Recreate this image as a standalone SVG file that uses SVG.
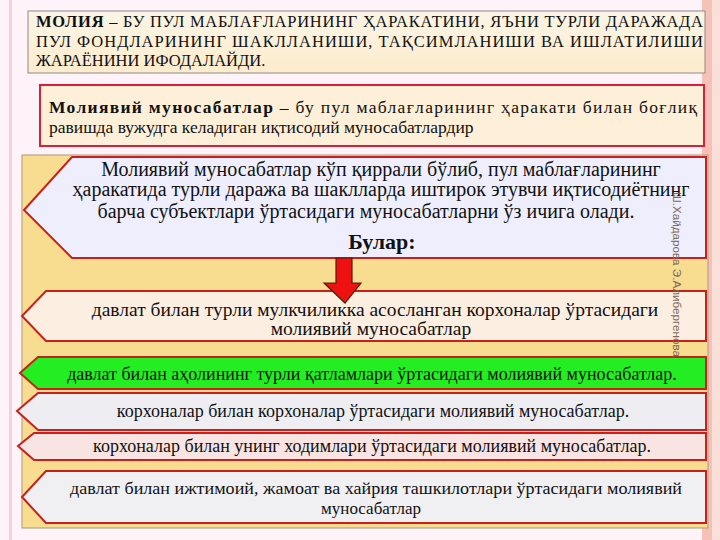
<svg xmlns="http://www.w3.org/2000/svg" width="720" height="540" viewBox="0 0 720 540">
<style>
.t{font-family:"Liberation Serif","Times New Roman",serif;fill:#111}
.h{font-size:16.5px}
.m{font-size:17.5px}
.r{font-size:19.5px}
.s{font-size:18px}
.band{stroke:#c8201a;stroke-width:2}
</style>
<defs>
<linearGradient id="cream" x1="0" y1="0" x2="0" y2="1">
<stop offset="0" stop-color="#fbf5e6"/><stop offset="1" stop-color="#fdeccc"/>
</linearGradient>
</defs>
<rect width="720" height="540" fill="#fdf3f8"/>
<rect x="702" y="0" width="18" height="540" fill="#f6c2b8"/>
<rect x="712" y="0" width="8" height="540" fill="#fbe0da"/>
<rect x="9" y="0" width="3" height="540" fill="#f5cfe0"/>

<g id="top-box">
<rect x="28" y="11" width="677" height="62" fill="url(#cream)" stroke="#8a8a8a" stroke-width="1"/>
<text class="t h" x="36" y="27" textLength="667" lengthAdjust="spacing"><tspan font-weight="bold">МОЛИЯ</tspan> – БУ ПУЛ МАБЛАҒЛАРИНИНГ ҲАРАКАТИНИ, ЯЪНИ ТУРЛИ ДАРАЖАДА</text>
<text class="t h" x="36" y="47" textLength="667" lengthAdjust="spacing">ПУЛ ФОНДЛАРИНИНГ ШАКЛЛАНИШИ, ТАҚСИМЛАНИШИ ВА ИШЛАТИЛИШИ</text>
<text class="t h" x="36" y="66">ЖАРАЁНИНИ ИФОДАЛАЙДИ.</text>
</g>

<g id="definition-box">
<rect x="40" y="85" width="664" height="61" fill="#fdefd8" stroke="#d8203e" stroke-width="2"/>
<text class="t m" x="49" y="113" textLength="648" lengthAdjust="spacing"><tspan font-weight="bold">Молиявий муносабатлар</tspan> – бу пул маблағларининг ҳаракати билан боғлиқ</text>
<text class="t m" x="49" y="133">равишда вужудга келадиган иқтисодий муносабатлардир</text>
</g>

<g id="container">
<rect x="22" y="155" width="686" height="373" fill="#f8dc90" stroke="#a89a80" stroke-width="1"/>
</g>

<g id="intro">
<polygon points="72,157 706,157 706,258 72,258 24,210" fill="#eeeefd" stroke="#c8201a" stroke-width="2"/>
<text class="t" x="381" y="176" text-anchor="middle" font-size="20">Молиявий муносабатлар кўп қиррали бўлиб, пул маблағларининг</text>
<text class="t" x="381" y="196" text-anchor="middle" font-size="20">ҳаракатида турли даража ва шаклларда иштирок этувчи иқтисодиётнинг</text>
<text class="t" x="366" y="218" text-anchor="middle" font-size="20">барча субъектлари ўртасидаги муносабатларни ўз ичига олади.</text>
<text class="t" x="382" y="249" text-anchor="middle" font-size="22" font-weight="bold">Булар:</text>
</g>

<g id="row1">
<polygon points="46,291 706,291 706,341 46,341 22,316" fill="#fdeee2" stroke="#c8201a" stroke-width="2"/>
<text class="t r" x="375" y="316" text-anchor="middle">давлат билан турли мулкчиликка асосланган корхоналар ўртасидаги</text>
<text class="t r" x="371" y="335" text-anchor="middle">молиявий муносабатлар</text>
</g>

<g id="row2">
<polygon points="38,357 706,357 706,389 38,389 20,373" fill="#22ee22" stroke="#c8201a" stroke-width="2"/>
<text class="t s" x="372" y="380" text-anchor="middle">давлат билан аҳолининг турли қатламлари ўртасидаги молиявий муносабатлар.</text>
</g>

<g id="row3">
<polygon points="38,393 706,393 706,430 38,430 17,411" fill="#ededf2" stroke="#c8201a" stroke-width="2"/>
<text class="t s" x="373" y="417" text-anchor="middle">корхоналар билан корхоналар ўртасидаги молиявий муносабатлар.</text>
</g>

<g id="row4">
<polygon points="34,433 706,433 706,460 34,460 18,446" fill="#f8e4e2" stroke="#c8201a" stroke-width="2"/>
<text class="t s" x="372" y="452" text-anchor="middle">корхоналар билан унинг ходимлари ўртасидаги молиявий муносабатлар.</text>
</g>

<g id="row5">
<polygon points="46,471 706,471 706,523 46,523 22,497" fill="#f0eff2" stroke="#c8201a" stroke-width="2"/>
<text class="t" x="376" y="494" text-anchor="middle" font-size="17" textLength="612" lengthAdjust="spacingAndGlyphs">давлат билан ижтимоий, жамоат ва хайрия ташкилотлари ўртасидаги молиявий</text>
<text class="t" x="371" y="514" text-anchor="middle" font-size="17">муносабатлар</text>
</g>

<g id="connectors">
<polygon points="336,258 352,258 352,283 361,283 345,303 324,283 336,283" fill="#ee1111" stroke="#5a1a00" stroke-width="1.2"/>
</g>

<text x="0" y="0" font-family="'Liberation Sans',Arial,sans-serif" font-size="10" fill="#7a6a5a" textLength="165" lengthAdjust="spacingAndGlyphs" transform="translate(673,192) rotate(90)">Ш.Хайдарова Э.Алибергенова</text>
</svg>
